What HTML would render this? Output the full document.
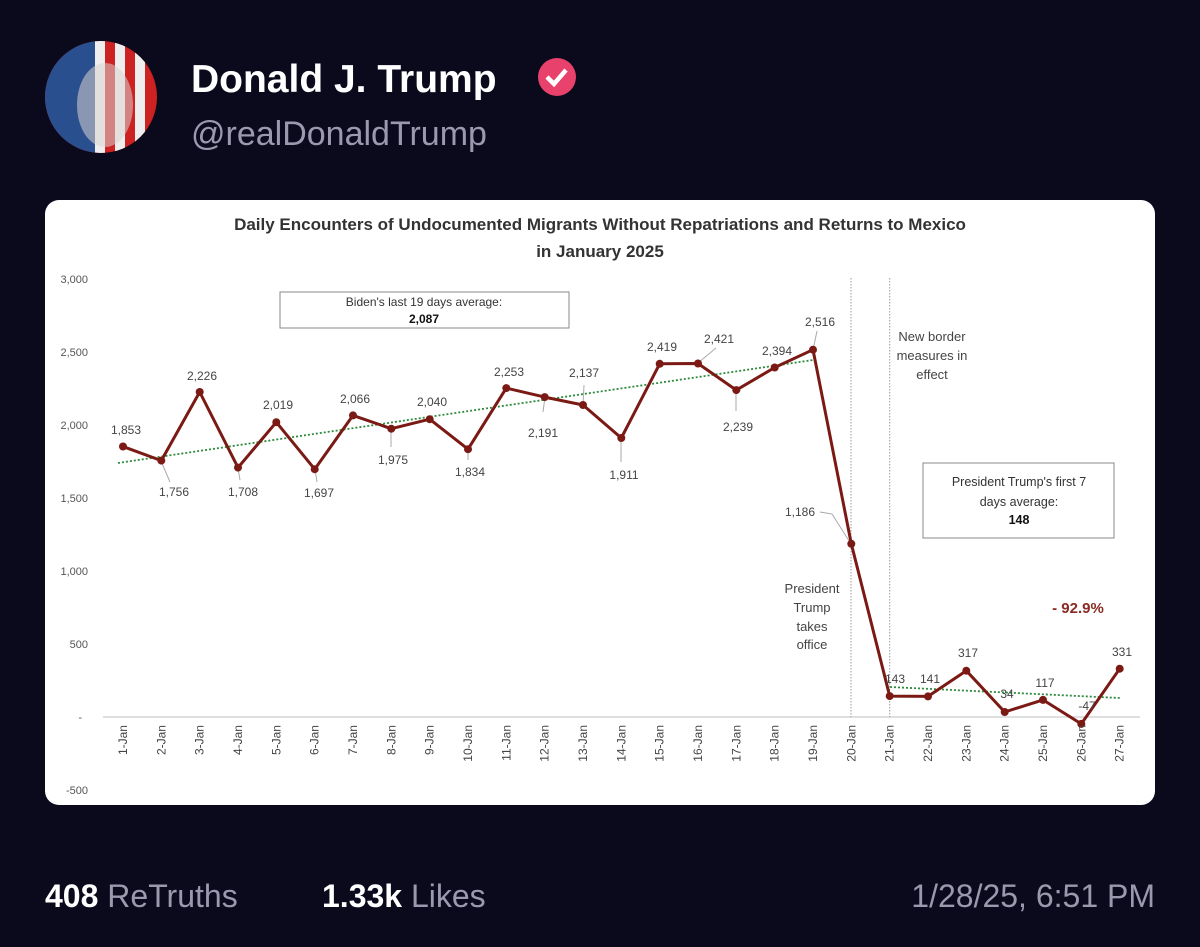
<!DOCTYPE html>
<html><head><meta charset="utf-8"><style>
body{margin:0;width:1200px;height:942px;background:#0b0a1c;overflow:hidden;font-family:"Liberation Sans",sans-serif}
</style></head><body>
<svg width="1200" height="942" xmlns="http://www.w3.org/2000/svg" font-family="Liberation Sans, sans-serif">
<defs><clipPath id="av"><circle cx="101" cy="97" r="56"/></clipPath></defs>
<g clip-path="url(#av)">
<rect x="45" y="41" width="112" height="112" fill="#c22"/>
<rect x="45" y="41" width="50" height="112" fill="#2a4f8f"/>
<rect x="95" y="41" width="10" height="112" fill="#eee"/>
<rect x="115" y="41" width="10" height="112" fill="#eee"/>
<rect x="135" y="41" width="10" height="112" fill="#eee"/>
<ellipse cx="105" cy="105" rx="28" ry="42" fill="#d9d4d0" opacity=".55"/>
</g>
<text x="191" y="92" font-size="39" font-weight="bold" fill="#fff">Donald J. Trump</text>
<circle cx="557" cy="77" r="19" fill="#e8416b"/>
<path d="M547 77 l7 7 l12 -14" stroke="#fff" stroke-width="4.5" fill="none"/>
<text x="191" y="145" font-size="34" fill="#9b99ad">@realDonaldTrump</text>

<rect x="45" y="200" width="1110" height="605" rx="14" fill="#fff"/>
<text x="600" y="230" font-size="17" font-weight="bold" text-anchor="middle" fill="#333">Daily Encounters of Undocumented Migrants Without Repatriations and Returns to Mexico</text>
<text x="600" y="257" font-size="17" font-weight="bold" text-anchor="middle" fill="#333">in January 2025</text>
<g font-size="11" fill="#555" text-anchor="end">
<text x="88" y="283">3,000</text><text x="88" y="356">2,500</text><text x="88" y="429">2,000</text>
<text x="88" y="502">1,500</text><text x="88" y="575">1,000</text><text x="88" y="648">500</text>
<text x="82" y="721">-</text><text x="88" y="794">-500</text>
</g>
<line x1="103" y1="717" x2="1140" y2="717" stroke="#ccc" stroke-width="1.2"/>
<line x1="851" y1="278" x2="851" y2="717" stroke="#999" stroke-dasharray="1.5 1.5"/>
<line x1="889.7" y1="278" x2="889.7" y2="717" stroke="#999" stroke-dasharray="1.5 1.5"/>
<line x1="118" y1="463" x2="813" y2="360" stroke="#2e8b3e" stroke-width="1.8" stroke-dasharray="2 2"/>
<line x1="890" y1="687" x2="1120" y2="698" stroke="#2e8b3e" stroke-width="1.8" stroke-dasharray="2 2"/>
<g stroke="#aaa" stroke-width="1">
<line x1="161" y1="461" x2="170" y2="482"/><line x1="238" y1="468" x2="240" y2="480"/><line x1="315" y1="469" x2="317" y2="482"/>
<line x1="391" y1="429" x2="391" y2="447"/><line x1="545" y1="397" x2="543" y2="412"/><line x1="583" y1="405" x2="584" y2="385"/>
<line x1="621" y1="438" x2="621" y2="462"/><line x1="698" y1="363" x2="716" y2="348"/><line x1="736" y1="390" x2="736" y2="411"/>
<line x1="813" y1="350" x2="817" y2="331"/><line x1="851" y1="544" x2="832" y2="514"/><line x1="832" y1="514" x2="820" y2="512"/>
<line x1="468" y1="449" x2="468" y2="460"/>
</g>
<polyline fill="none" stroke="#7b1a14" stroke-width="3" stroke-linejoin="round" points="123,446.5 161.3,460.6 199.7,392 238,467.6 276.3,422.2 314.7,469.2 353,415.4 391.3,428.7 429.7,419.2 468,449.2 506.3,388.1 544.7,397.1 583,405 621.3,438 659.7,363.8 698,363.5 736.3,390.1 774.7,367.5 813,349.7 851.3,543.8 889.7,696.1 928,696.4 966.3,670.7 1004.7,712 1043,699.9 1081.3,723.9 1119.7,668.7"/>
<g fill="#7b1a14"><circle cx="123" cy="446.5" r="4"/><circle cx="161.3" cy="460.6" r="4"/><circle cx="199.7" cy="392" r="4"/><circle cx="238" cy="467.6" r="4"/><circle cx="276.3" cy="422.2" r="4"/><circle cx="314.7" cy="469.2" r="4"/><circle cx="353" cy="415.4" r="4"/><circle cx="391.3" cy="428.7" r="4"/><circle cx="429.7" cy="419.2" r="4"/><circle cx="468" cy="449.2" r="4"/><circle cx="506.3" cy="388.1" r="4"/><circle cx="544.7" cy="397.1" r="4"/><circle cx="583" cy="405" r="4"/><circle cx="621.3" cy="438" r="4"/><circle cx="659.7" cy="363.8" r="4"/><circle cx="698" cy="363.5" r="4"/><circle cx="736.3" cy="390.1" r="4"/><circle cx="774.7" cy="367.5" r="4"/><circle cx="813" cy="349.7" r="4"/><circle cx="851.3" cy="543.8" r="4"/><circle cx="889.7" cy="696.1" r="4"/><circle cx="928" cy="696.4" r="4"/><circle cx="966.3" cy="670.7" r="4"/><circle cx="1004.7" cy="712" r="4"/><circle cx="1043" cy="699.9" r="4"/><circle cx="1081.3" cy="723.9" r="4"/><circle cx="1119.7" cy="668.7" r="4"/></g>
<g font-size="12" fill="#444" text-anchor="end">
<text transform="translate(127,725) rotate(-90)">1-Jan</text><text transform="translate(165.3,725) rotate(-90)">2-Jan</text><text transform="translate(203.7,725) rotate(-90)">3-Jan</text><text transform="translate(242,725) rotate(-90)">4-Jan</text><text transform="translate(280.3,725) rotate(-90)">5-Jan</text><text transform="translate(318.7,725) rotate(-90)">6-Jan</text><text transform="translate(357,725) rotate(-90)">7-Jan</text><text transform="translate(395.3,725) rotate(-90)">8-Jan</text><text transform="translate(433.7,725) rotate(-90)">9-Jan</text><text transform="translate(472,725) rotate(-90)">10-Jan</text><text transform="translate(510.3,725) rotate(-90)">11-Jan</text><text transform="translate(548.7,725) rotate(-90)">12-Jan</text><text transform="translate(587,725) rotate(-90)">13-Jan</text><text transform="translate(625.3,725) rotate(-90)">14-Jan</text><text transform="translate(663.7,725) rotate(-90)">15-Jan</text><text transform="translate(702,725) rotate(-90)">16-Jan</text><text transform="translate(740.3,725) rotate(-90)">17-Jan</text><text transform="translate(778.7,725) rotate(-90)">18-Jan</text><text transform="translate(817,725) rotate(-90)">19-Jan</text><text transform="translate(855.3,725) rotate(-90)">20-Jan</text><text transform="translate(893.7,725) rotate(-90)">21-Jan</text><text transform="translate(932,725) rotate(-90)">22-Jan</text><text transform="translate(970.3,725) rotate(-90)">23-Jan</text><text transform="translate(1008.7,725) rotate(-90)">24-Jan</text><text transform="translate(1047,725) rotate(-90)">25-Jan</text><text transform="translate(1085.3,725) rotate(-90)">26-Jan</text><text transform="translate(1123.7,725) rotate(-90)">27-Jan</text>
</g>
<rect x="280" y="292" width="289" height="36" fill="#fff" stroke="#888"/>
<text x="424" y="306" font-size="12" text-anchor="middle" fill="#333">Biden's last 19 days average:</text>
<text x="424" y="323" font-size="12" font-weight="bold" text-anchor="middle" fill="#111">2,087</text>
<rect x="923" y="463" width="191" height="75" fill="#fff" stroke="#888"/>
<text x="1019" y="486" font-size="12.5" text-anchor="middle" fill="#333">President Trump's first 7</text>
<text x="1019" y="506" font-size="12.5" text-anchor="middle" fill="#333">days average:</text>
<text x="1019" y="524" font-size="12.5" font-weight="bold" text-anchor="middle" fill="#111">148</text>
<g font-size="13" fill="#444" text-anchor="middle">
<text x="932" y="341">New border</text><text x="932" y="360">measures in</text><text x="932" y="379">effect</text>
<text x="812" y="593">President</text><text x="812" y="612">Trump</text><text x="812" y="631">takes</text><text x="812" y="649">office</text>
</g>
<text x="1078" y="613" font-size="15" font-weight="bold" fill="#8a2a22" text-anchor="middle">- 92.9%</text>
<g font-size="12" fill="#444" text-anchor="middle">
<text x="126" y="434">1,853</text><text x="174" y="496">1,756</text><text x="202" y="380">2,226</text><text x="243" y="496">1,708</text>
<text x="278" y="409">2,019</text><text x="319" y="497">1,697</text><text x="355" y="403">2,066</text><text x="393" y="464">1,975</text>
<text x="432" y="406">2,040</text><text x="470" y="476">1,834</text><text x="509" y="376">2,253</text><text x="543" y="437">2,191</text>
<text x="584" y="377">2,137</text><text x="624" y="479">1,911</text><text x="662" y="351">2,419</text><text x="719" y="343">2,421</text>
<text x="738" y="431">2,239</text><text x="777" y="355">2,394</text><text x="820" y="326">2,516</text><text x="800" y="516">1,186</text>
<text x="895" y="683">143</text><text x="930" y="683">141</text><text x="968" y="657">317</text><text x="1007" y="698">34</text>
<text x="1045" y="687">117</text><text x="1087" y="710">-47</text><text x="1122" y="656">331</text>
</g>
<text x="45" y="907" font-size="32" fill="#fff" font-weight="bold">408 <tspan fill="#9b99ad" font-weight="normal">ReTruths</tspan></text>
<text x="322" y="907" font-size="32" fill="#fff" font-weight="bold">1.33k <tspan fill="#9b99ad" font-weight="normal">Likes</tspan></text>
<text x="1155" y="907" font-size="32" fill="#9b99ad" text-anchor="end">1/28/25, 6:51 PM</text>
</svg>
</body></html>
